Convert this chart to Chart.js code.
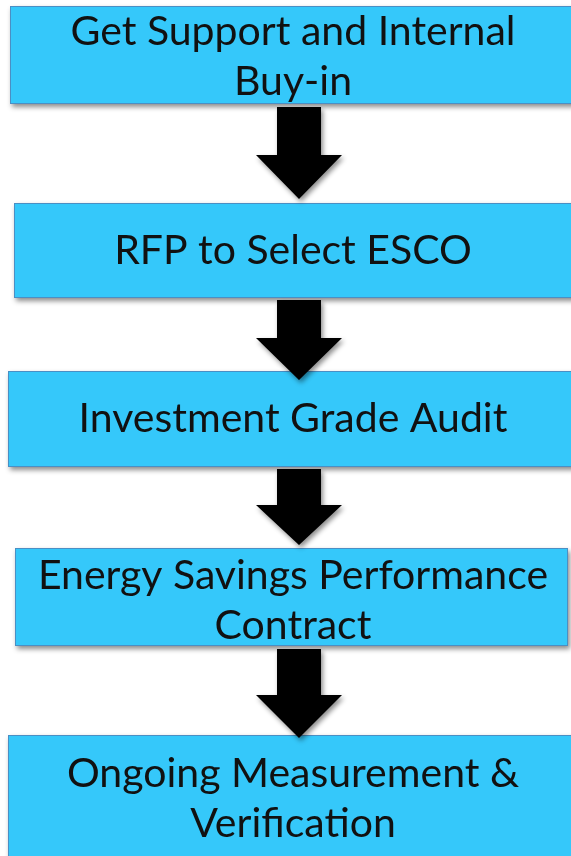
<!DOCTYPE html>
<html><head><meta charset="utf-8">
<script src="https://cdn.jsdelivr.net/npm/chart.js@4/dist/chart.umd.min.js"></script>
<style>html,body{margin:0;padding:0;background:#fff;overflow:hidden}#wrap{width:571px;height:856px;position:relative}</style>
</head><body><div id="wrap"><canvas id="c"></canvas></div>
<script>
// ---- data: the flow steps, in order ----
const stepLabels = [
  ["Get Support and Internal", "Buy-in"],
  ["RFP to Select ESCO"],
  ["Investment Grade Audit"],
  ["Energy Savings Performance", "Contract"],
  ["Ongoing Measurement &", "Verification"]
];
const stepOrder = [1, 2, 3, 4, 5];

// ---- layout (chart units = page pixels via the scales) ----
const boxTop    = [6, 203, 371, 548, 735];
const boxBottom = [104, 298, 467, 646, 880];
const boxLeft   = [10, 14, 8, 15, 8];
const boxRight  = [585, 585, 585, 568, 585];
const textMid   = [57, 251, 419, 601, 799];
const arrows = [ // [shaftTop, headStart, tip]
  [107, 155, 199],
  [300, 338, 380],
  [469, 505, 545],
  [649, 695, 738]
];
const arrowCx = 299, shaftHalf = 22, headHalf = 43;
const lineGap = 50;

const style = {
  fill: '#35C8FA', border: '#4A8FC4', text: '#111111',
  font: 'Lato, "Open Sans", sans-serif', size: 41
};

const flowPlugin = {
  id: 'flow',
  afterDatasetsDraw(chart) {
    const {ctx, scales: {x, y}} = chart;
    const X = v => x.getPixelForValue(v), Y = v => y.getPixelForValue(v);
    ctx.save();
    // boxes
    stepOrder.forEach((s, i) => {
      const l = X(boxLeft[i]), r = X(boxRight[i]), t = Y(boxTop[i]), b = Y(boxBottom[i]);
      ctx.save();
      ctx.shadowColor = 'rgba(0,0,0,0.45)';
      ctx.shadowBlur = 5; ctx.shadowOffsetX = 2; ctx.shadowOffsetY = 3;
      ctx.fillStyle = style.fill;
      ctx.fillRect(l, t, r - l, b - t);
      ctx.restore();
      ctx.strokeStyle = style.border; ctx.lineWidth = 1;
      ctx.strokeRect(l + 0.5, t + 0.5, r - l - 1, b - t - 1);
    });
    // arrows
    arrows.forEach(a => {
      const cx = X(arrowCx);
      const sh = X(arrowCx + shaftHalf) - cx, hh = X(arrowCx + headHalf) - cx;
      ctx.save();
      ctx.shadowColor = 'rgba(0,0,0,0.45)';
      ctx.shadowBlur = 5; ctx.shadowOffsetX = 2; ctx.shadowOffsetY = 3;
      ctx.fillStyle = '#000';
      ctx.beginPath();
      ctx.moveTo(cx - sh, Y(a[0]));
      ctx.lineTo(cx + sh, Y(a[0]));
      ctx.lineTo(cx + sh, Y(a[1]));
      ctx.lineTo(cx + hh, Y(a[1]));
      ctx.lineTo(cx, Y(a[2]));
      ctx.lineTo(cx - hh, Y(a[1]));
      ctx.lineTo(cx - sh, Y(a[1]));
      ctx.closePath();
      ctx.fill();
      ctx.restore();
    });
    // text
    ctx.fillStyle = style.text;
    ctx.textAlign = 'center';
    ctx.textBaseline = 'middle';
    ctx.font = style.size + 'px ' + style.font;
    stepOrder.forEach((s, i) => {
      const lines = stepLabels[i];
      const cx = X(293);
      const start = textMid[i] - (lines.length - 1) * lineGap / 2;
      lines.forEach((ln, j) => ctx.fillText(ln, cx, Y(start + j * lineGap)));
    });
    ctx.restore();
  }
};

new Chart(document.getElementById('c'), {
  type: 'scatter',
  data: { datasets: [{ data: stepOrder.map((s, i) => ({x: 293, y: (boxTop[i] + Math.min(boxBottom[i], 856)) / 2})), pointRadius: 0 }] },
  options: {
    responsive: true, maintainAspectRatio: false, animation: false,
    layout: { padding: 0 },
    plugins: { legend: { display: false }, tooltip: { enabled: false } },
    scales: {
      x: { type: 'linear', min: 0, max: 571, display: false },
      y: { type: 'linear', min: 0, max: 856, reverse: true, display: false }
    }
  },
  plugins: [flowPlugin]
});
</script></body></html>
